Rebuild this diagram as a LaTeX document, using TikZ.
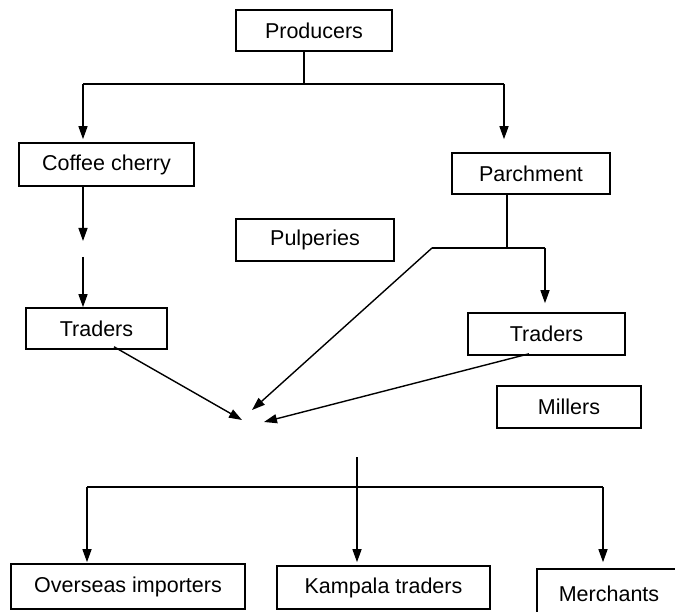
\documentclass[tikz,border=0pt]{standalone}
\usepackage{fontspec}
\setmainfont{Liberation Sans}
\usetikzlibrary{arrows.meta}
\begin{document}
\begin{tikzpicture}[x=1pt,y=-1pt,
  box/.style={draw, line width=1.6pt, inner sep=0pt,
    font=\fontsize{21.5}{24}\selectfont},
  link/.style={line width=1.4pt},
  arr/.style={link, -{Triangle[length=13pt,width=9pt]}}]
\clip (0,0) rectangle (675,612);

% boxes
\node[box, minimum width=156pt, minimum height=41pt] (prod) at (314,30.5) {Producers};
\node[box, minimum width=175pt, minimum height=43pt] (cherry) at (106.5,164.5) {Coffee cherry};
\node[box, minimum width=158pt, minimum height=41pt] (parch) at (531,173.5) {Parchment};
\node[box, minimum width=158pt, minimum height=42pt] (pulp) at (315,240) {Pulperies};
\node[box, minimum width=141pt, minimum height=41pt] (tradl) at (96.5,328.5) {Traders};
\node[box, minimum width=157pt, minimum height=42pt] (tradr) at (546.5,334) {Traders};
\node[box, minimum width=144pt, minimum height=42pt] (mill) at (569,407) {Millers};
\node[box, minimum width=234pt, minimum height=45pt] (over) at (128,586.5) {Overseas importers};
\node[box, minimum width=213pt, minimum height=43pt] (kamp) at (383.5,587.5) {Kampala traders};
\node[box, minimum width=144pt, minimum height=50pt] (merch) at (609,594) {Merchants};

% junction points
\coordinate (ptop) at (304,84);
\coordinate (pl) at (83,84);
\coordinate (pr) at (504,84);
\coordinate (cgap1) at (83,241);
\coordinate (cgap2) at (83,257);
\coordinate (hj) at (507,248);
\coordinate (hl) at (432,248);
\coordinate (hr) at (545,248);
\coordinate (hub1) at (242,420);
\coordinate (hub2) at (252,410);
\coordinate (hub3) at (264,422);
\coordinate (btop) at (357,457);
\coordinate (bl) at (87,487);
\coordinate (br) at (603,487);

% producers split
\draw[link] (prod.south -| ptop) -- (ptop);
\draw[link] (pl) -- (pr);
\draw[arr] (pl) -- ([yshift=3pt]cherry.north -| pl);
\draw[arr] (pr) -- ([yshift=13pt]parch.north -| pr);

% cherry branch
\draw[arr] (cherry.south -| pl) -- (cgap1);
\draw[arr] (cgap2) -- (tradl.north -| cgap2);

% parchment branch
\draw[link] (parch.south -| hj) -- (hj);
\draw[link] (hl) -- (hr);
\draw[arr] (hr) -- ([yshift=9pt]tradr.north -| hr);
\draw[arr] (hl) -- (hub2);

% traders into the centre
\draw[arr] ([xshift=17.5pt,yshift=3pt]tradl.south) -- (hub1);
\draw[arr] ([xshift=-17.5pt,yshift=2pt]tradr.south) -- (hub3);

% distribution
\draw[arr] (btop) -- ([yshift=3pt]kamp.north -| btop);
\draw[link] (bl) -- (br);
\draw[arr] (bl) -- ([yshift=1pt]over.north -| bl);
\draw[arr] (br) -- ([yshift=6pt]merch.north -| br);
\end{tikzpicture}
\end{document}
